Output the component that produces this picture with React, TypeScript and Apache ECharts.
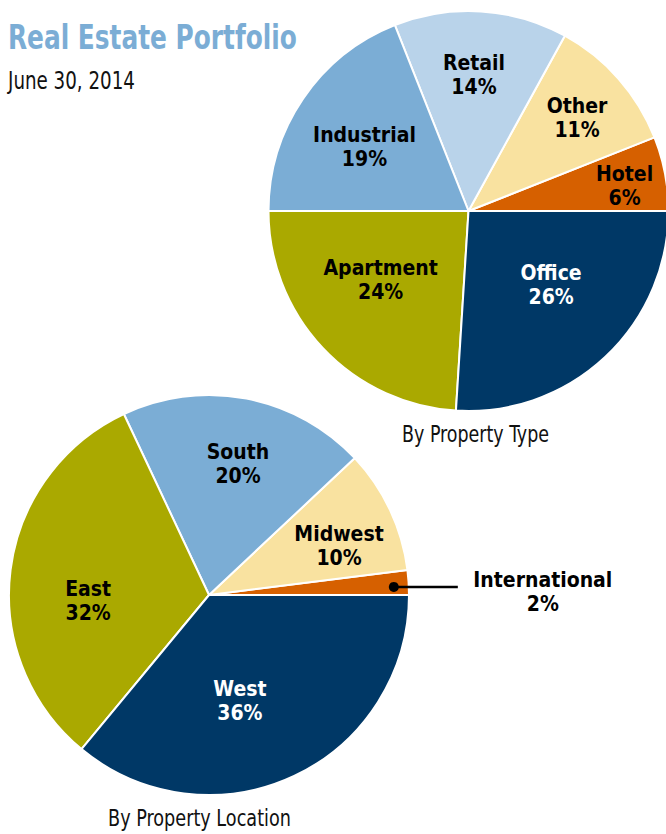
import React, { useEffect, useRef } from 'react';
import * as echarts from 'echarts';

const typeNames = ['Hotel', 'Other', 'Retail', 'Industrial', 'Apartment', 'Office'];
const typeValues = [6, 11, 14, 19, 24, 26];
const locationNames = ['International', 'Midwest', 'South', 'East', 'West'];
const locationValues = [2, 10, 20, 32, 36];

const titleText = 'Real Estate Portfolio';
const dateText = 'June 30, 2014';
const typeCaption = 'By Property Type';
const locationCaption = 'By Property Location';

const typeColors = ['#d66000', '#f9e2a0', '#b9d3ea', '#7badd5', '#aaa900', '#003866'];
const locationColors = ['#d66000', '#f9e2a0', '#7badd5', '#aaa900', '#003866'];
const typeLabelColors = ['#000', '#000', '#000', '#000', '#000', '#fff'];
const locationLabelColors = ['#000', '#000', '#000', '#000', '#fff'];

// label placement inside slices: [radius fraction, angle in degrees]
const typeLabelPlace = [[0.79, 9], [0.715, 40.6], [0.68, 87.7], [0.61, 148.5], [0.56, 218.3], [0.555, 318.1]];
const locationLabelPlace = [[0.925, 2.5], [0.695, 20.7], [0.67, 77.5], [0.605, 182.8], [0.55, 286.3]];

const FONT = "'Liberation Sans Narrow', 'DejaVu Sans Condensed', 'Roboto Condensed', 'Arial Narrow', Roboto, sans-serif";

const TYPE_C = [468.5, 211];
const LOC_C = [209, 595];
const R = 200;

function measure(text: string, font: string) {
  const ctx = document.createElement('canvas').getContext('2d')!;
  ctx.font = font;
  return ctx.measureText(text).width || 1;
}

function polar(c: number[], f: number, a: number) {
  const rad = (a * Math.PI) / 180;
  return [c[0] + f * R * Math.cos(rad), c[1] - f * R * Math.sin(rad)];
}

export default function App() {
  const ref = useRef<HTMLDivElement>(null);
  useEffect(() => {
    if (!ref.current) return;
    const chart = echarts.init(ref.current, undefined, { renderer: 'svg' });

    const titleFont = `bold 34px ${FONT}`;
    const dateFont = `24px ${FONT}`;
    const capFont = `23px ${FONT}`;
    const sx = (t: string, f: string, w: number) => w / measure(t, f);

    const labelStyle = {
      fontFamily: FONT,
      fontWeight: 'bold' as const,
      fontSize: 21,
      lineHeight: 24,
      align: 'center' as const,
    };

    const intlDot = polar(LOC_C, locationLabelPlace[0][0], locationLabelPlace[0][1]);
    const intlLineEnd = [intlDot[0] + 64, intlDot[1]];

    const typeData = typeNames.map((n, i) => ({
      name: n,
      value: typeValues[i],
      itemStyle: { color: typeColors[i] },
      label: { color: typeLabelColors[i] },
    }));
    const locData = locationNames.map((n, i) => ({
      name: n,
      value: locationValues[i],
      itemStyle: { color: locationColors[i] },
      label: { color: locationLabelColors[i] },
    }));

    chart.setOption({
      animation: false,
      backgroundColor: '#fff',
      graphic: [
        {
          type: 'text', x: 8, y: 37, scaleX: sx(titleText, titleFont, 289),
          style: { text: titleText, font: titleFont, fill: '#7badd5', align: 'left', verticalAlign: 'middle' },
        },
        {
          type: 'text', x: 8, y: 80, scaleX: sx(dateText, dateFont, 127),
          style: { text: dateText, font: dateFont, fill: '#111', align: 'left', verticalAlign: 'middle' },
        },
        {
          type: 'text', x: 475.5, y: 434, scaleX: sx(typeCaption, capFont, 147),
          style: { text: typeCaption, font: capFont, fill: '#111', align: 'center', verticalAlign: 'middle' },
        },
        {
          type: 'text', x: 199.5, y: 818, scaleX: sx(locationCaption, capFont, 183),
          style: { text: locationCaption, font: capFont, fill: '#111', align: 'center', verticalAlign: 'middle' },
        },
        {
          type: 'line', z: 100,
          shape: { x1: intlDot[0], y1: intlDot[1], x2: intlLineEnd[0], y2: intlLineEnd[1] },
          style: { stroke: '#000', lineWidth: 2.5 },
        },
        {
          type: 'circle', z: 101, shape: { cx: intlDot[0], cy: intlDot[1], r: 5 }, style: { fill: '#000' },
        },
      ],
      series: [
        {
          type: 'pie',
          center: TYPE_C,
          radius: R,
          startAngle: 0,
          clockwise: false,
          avoidLabelOverlap: false,
          itemStyle: { borderColor: '#fff', borderWidth: 2 },
          label: { show: true, position: 'inside', formatter: '{b}\n{c}%', ...labelStyle },
          labelLine: { show: false },
          emphasis: { disabled: true },
          labelLayout: (p: any) => {
            const pl = typeLabelPlace[p.dataIndex];
            const pt = polar(TYPE_C, pl[0], pl[1]);
            return { x: pt[0], y: pt[1], align: 'center', verticalAlign: 'middle' };
          },
          data: typeData,
        },
        {
          type: 'pie',
          center: LOC_C,
          radius: R,
          startAngle: 0,
          clockwise: false,
          avoidLabelOverlap: false,
          itemStyle: { borderColor: '#fff', borderWidth: 2 },
          label: { show: true, position: 'inside', formatter: '{b}\n{c}%', ...labelStyle },
          labelLine: { show: false },
          emphasis: { disabled: true },
          labelLayout: (p: any) => {
            if (p.dataIndex === 0) {
              return { x: intlLineEnd[0] + 85, y: intlLineEnd[1] + 5, align: 'center', verticalAlign: 'middle' };
            }
            const pl = locationLabelPlace[p.dataIndex];
            const pt = polar(LOC_C, pl[0], pl[1]);
            return { x: pt[0], y: pt[1], align: 'center', verticalAlign: 'middle' };
          },
          data: locData,
        },
      ],
    });
    return () => chart.dispose();
  }, []);
  return <div ref={ref} style={{ position: 'absolute', left: 0, top: 0, width: 666, height: 834 }} />;
}
